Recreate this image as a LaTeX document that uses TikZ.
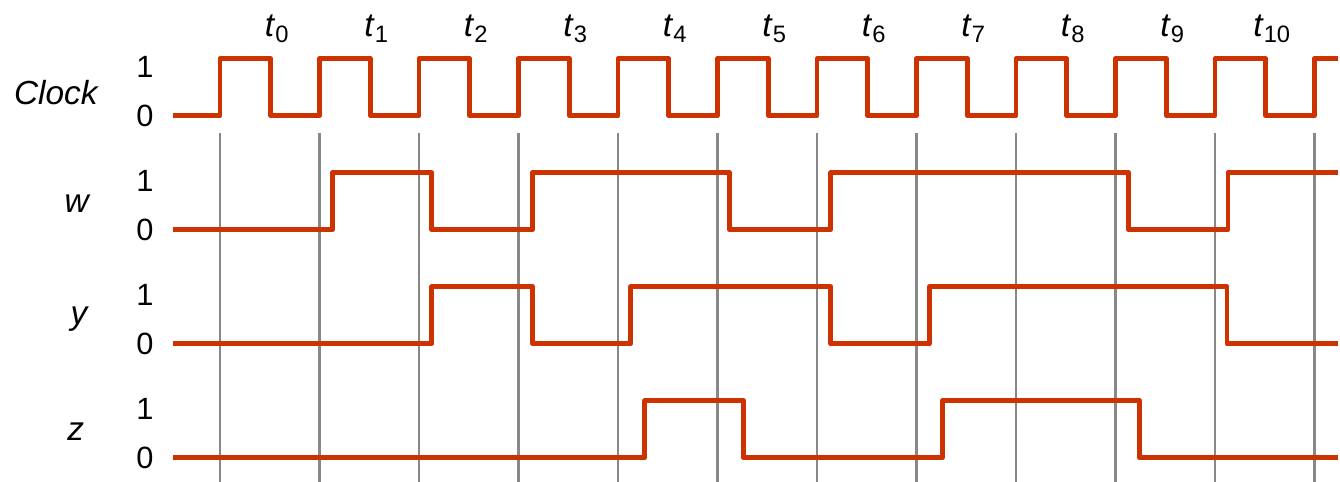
\documentclass[tikz,border=0pt]{standalone}
\usepackage{fontspec}
\setmainfont{Liberation Sans}
\usepackage{tikz}

\definecolor{wavered}{RGB}{204,51,0}
\definecolor{gridgray}{RGB}{136,136,136}
\newcommand{\tlab}[1]{\textit{t}\raisebox{-3.2pt}{\fontsize{13.5}{16}\selectfont #1}}
\tikzset{
  wave/.style={wavered,line width=2.8pt,line join=round},
  gridline/.style={gridgray,line width=1.6pt},
  signame/.style={font=\fontsize{19}{23}\selectfont\itshape,anchor=base,inner sep=0pt},
  level/.style={font=\fontsize{17.5}{21}\selectfont,inner sep=0pt},
  tlabel/.style={font=\fontsize{19}{23}\selectfont,anchor=base,inner sep=0pt}
}

\begin{document}
\begin{tikzpicture}[x=1.99cm,y=1.14cm]
\useasboundingbox (-2.211,-6.426) rectangle (11.256,2.03);
\foreach \k in {0,...,11} \draw[gridline] (\k,-0.3) -- (\k,-6.426);
\foreach \k in {0,...,10} \node[tlabel] (t\k) at (\k+0.57,1.386) {\tlab{\k}};
\foreach \r [count=\i] in {0,-2,-4,-6} {
  \node[level] (one\i) at (-0.754,\r+0.86) {1};
  \node[level] (zero\i) at (-0.754,\r) {0};
}
\node[signame] (sig-clk) at (-1.65,0.193) {Clock};
\node[signame] (sig-w) at (-1.44,-1.695) {w};
\node[signame] (sig-y) at (-1.417,-3.66) {y};
\node[signame] (sig-z) at (-1.45,-5.70) {z};
\draw[wave] (-0.475,0) \foreach \k in {0,...,10} { -| (\k,1) -| (\k+0.51,0) } -| (11,1) -- (11.24,1);
\draw[wave] (-0.475,-2) -| (1.13,-1) -| (2.13,-2) -| (3.14,-1) -| (5.12,-2) -| (6.14,-1) -| (9.13,-2) -| (10.13,-1) -- (11.24,-1);
\draw[wave] (-0.475,-4) -| (2.13,-3) -| (3.14,-4) -| (4.13,-3) -| (6.14,-4) -| (7.13,-3) -| (10.12,-4) -- (11.24,-4);
\draw[wave] (-0.475,-6) -| (4.27,-5) -| (5.26,-6) -| (7.26,-5) -| (9.24,-6) -- (11.24,-6);
\end{tikzpicture}
\end{document}
